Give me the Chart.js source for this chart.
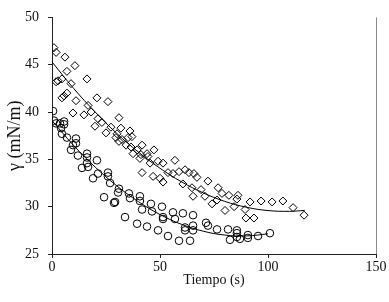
<!DOCTYPE html>
<html>
<head>
<meta charset="utf-8">
<script src="https://cdn.jsdelivr.net/npm/chart.js@4.4.1/dist/chart.umd.min.js"></script>
<style>
  html, body { margin: 0; padding: 0; background: #fff; }
  #wrap { width: 389px; height: 302px; }
</style>
</head>
<body>
<div id="wrap"><canvas id="chart" width="389" height="302"></canvas></div>
<script>
// rombos (serie 1)
const diamondX = [0.9, 1.9, 6.0, 10.6, 6.9, 16.2, 1.9, 2.8, 4.6, 8.8, 6.9, 5.6, 4.6, 11.1, 9.7, 14.8, 16.7, 18.1, 20.8, 25.9,
  21.3, 23.1, 19.9, 31.0, 27.3, 31.9, 25.0, 29.6, 36.1, 35.2, 31.0, 34.3, 41.7, 36.6, 39.4, 41.2, 47.2, 44.4, 40.7, 30.1,
  32.4, 37.0, 37.5, 44.0, 45.4, 49.1, 51.4, 56.9, 53.7, 56.0, 41.7, 46.8, 50.0, 51.4, 58.8, 61.6, 63.4, 65.7, 67.1, 72.2,
  69.0, 64.8, 60.6, 76.9, 78.7, 81.9, 86.1, 85.6, 91.7, 96.8, 70.8, 74.1, 76.4, 80.1, 84.3, 89.4, 89.8, 93.5, 101.9, 106.9,
  111.6, 116.7, 65.3];
const diamondY = [46.8, 46.3, 45.8, 44.9, 44.3, 43.5, 43.2, 43.3, 43.5, 43.0, 42.0, 41.7, 41.5, 41.2, 39.9, 39.7, 40.7, 40.0, 41.5, 41.1,
  39.3, 38.9, 38.5, 39.4, 38.4, 38.3, 37.8, 37.3, 38.0, 37.3, 36.9, 36.5, 36.5, 36.3, 36.0, 35.5, 36.0, 35.3, 35.1, 37.7,
  37.1, 37.4, 35.6, 35.6, 34.6, 34.8, 34.6, 34.9, 33.6, 33.5, 33.6, 33.2, 33.0, 32.6, 33.7, 33.9, 33.6, 33.5, 33.1, 32.7,
  31.8, 32.0, 32.4, 32.0, 31.4, 31.2, 31.2, 30.8, 30.5, 30.6, 31.1, 30.3, 30.7, 29.6, 30.0, 29.7, 28.8, 28.8, 30.5, 30.6,
  29.9, 29.1, 31.1];

// círculos (serie 2)
const circleX = [0.5, 0.9, 1.9, 3.7, 4.2, 5.6, 5.6, 4.6, 6.9, 11.1, 11.1, 9.7, 8.8, 12.0, 16.2, 16.2, 13.9, 16.7, 16.2, 20.8,
  19.0, 21.3, 25.9, 25.9, 26.9, 31.0, 30.6, 24.1, 28.7, 35.6, 36.1, 40.7, 40.7, 41.7, 45.8, 46.3, 50.9, 51.4, 51.4, 56.0,
  56.9, 60.6, 65.3, 61.6, 61.6, 65.3, 65.3, 33.8, 39.4, 44.0, 49.1, 53.7, 58.8, 63.9, 71.3, 72.2, 76.4, 81.5, 82.4, 85.6,
  85.6, 85.6, 87.0, 90.7, 90.7, 95.4, 100.9, 29.2];
const circleY = [40.1, 39.1, 38.8, 38.8, 38.3, 39.0, 38.7, 37.7, 37.3, 37.2, 36.7, 36.5, 36.0, 35.4, 35.6, 35.2, 34.1, 34.2, 34.6, 34.9,
  33.0, 33.5, 33.6, 33.2, 32.5, 31.9, 31.5, 31.0, 30.4, 31.4, 30.9, 31.1, 30.6, 29.7, 30.3, 29.5, 30.0, 28.9, 28.7, 29.4,
  28.7, 29.3, 29.1, 27.8, 27.5, 28.0, 27.5, 28.9, 28.2, 27.9, 27.5, 26.9, 26.4, 26.4, 28.3, 28.0, 27.6, 27.6, 26.5, 27.5,
  27.2, 26.8, 26.6, 27.0, 26.7, 26.9, 27.2, 30.5];

// curvas de ajuste
const fitDiamondX = [0, 10, 20, 30, 40, 50, 60, 70, 80, 90, 100, 110, 117];
const fitDiamondY = [45.3, 42.5, 40.0, 37.74, 35.77, 34.06, 32.62, 31.46, 30.56, 29.94, 29.59, 29.51, 29.61];
const fitCircleX = [0, 10, 20, 30, 40, 50, 60, 70, 80, 90, 100];
const fitCircleY = [39.1, 36.48, 34.18, 32.2, 30.53, 29.17, 28.13, 27.41, 27.0, 26.91, 27.13];

const xTicks = [0, 50, 100, 150];
const yTicks = [25, 30, 35, 40, 45, 50];

const pts = (xs, ys) => xs.map((x, i) => ({ x, y: ys[i] }));
const serif = 'Liberation Serif, Times New Roman, serif';

// borde derecho del área de trazado
const rightEdge = {
  id: 'rightEdge',
  afterDraw(chart) {
    const { ctx, chartArea: a } = chart;
    ctx.save();
    ctx.strokeStyle = '#8a8a8a';
    ctx.lineWidth = 1;
    ctx.beginPath();
    ctx.moveTo(Math.round(a.right) + 0.5, a.top);
    ctx.lineTo(Math.round(a.right) + 0.5, a.bottom);
    ctx.stroke();
    ctx.restore();
  }
};

new Chart(document.getElementById('chart'), {
  type: 'scatter',
  data: {
    datasets: [
      {
        type: 'line', data: pts(fitDiamondX, fitDiamondY),
        borderColor: '#000', borderWidth: 1, pointRadius: 0, tension: 0.4, fill: false
      },
      {
        type: 'line', data: pts(fitCircleX, fitCircleY),
        borderColor: '#000', borderWidth: 1, pointRadius: 0, tension: 0.4, fill: false
      },
      {
        data: pts(diamondX, diamondY), pointStyle: 'rectRot', pointRadius: 4,
        borderColor: '#000', borderWidth: 1, backgroundColor: 'rgba(0,0,0,0)'
      },
      {
        data: pts(circleX, circleY), pointStyle: 'circle', pointRadius: 3.8,
        borderColor: '#000', borderWidth: 1, backgroundColor: 'rgba(0,0,0,0)'
      }
    ]
  },
  options: {
    responsive: false,
    animation: false,
    layout: { padding: { top: 16, right: 13, left: 0, bottom: 0 } },
    plugins: { legend: { display: false }, tooltip: { enabled: false } },
    scales: {
      x: {
        type: 'linear', min: 0, max: 150,
        afterBuildTicks: s => { s.ticks = xTicks.map(v => ({ value: v })); },
        afterFit: s => { s.height = 48; },
        ticks: { color: '#111', font: { family: serif, size: 14 }, padding: 1 },
        grid: { drawOnChartArea: false, drawTicks: true, tickLength: 4, color: '#222' },
        border: { color: '#222', width: 1 },
        title: { display: true, text: 'Tiempo (s)', color: '#111', font: { family: serif, size: 14 }, padding: { bottom: 13 } }
      },
      y: {
        type: 'linear', min: 25, max: 50,
        afterBuildTicks: s => { s.ticks = yTicks.map(v => ({ value: v })); },
        afterFit: s => { s.width = 52; },
        ticks: { color: '#111', font: { family: serif, size: 14 }, padding: 9 },
        grid: { drawOnChartArea: false, drawTicks: true, tickLength: 4, color: '#222' },
        border: { color: '#222', width: 1 },
        title: { display: true, text: 'γ (mN/m)', color: '#111', font: { family: serif, size: 18 }, padding: { top: 4 } }
      }
    }
  },
  plugins: [rightEdge]
});
</script>
</body>
</html>
